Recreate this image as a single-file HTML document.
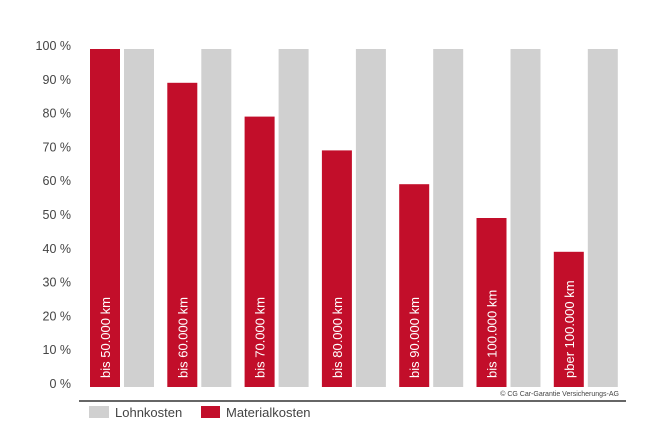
<!DOCTYPE html>
<html><head><meta charset="utf-8"><style>
body{margin:0;background:#fff;font-family:"Liberation Sans",sans-serif}
svg{display:block}
</style></head><body>
<svg width="660" height="440">
<g id="yaxis"></g>
<g id="bars"></g>
<text x="619" y="396" font-size="7" fill="#444" text-anchor="end">© CG Car-Garantie Versicherungs-AG</text>
<line x1="79" y1="401" x2="626" y2="401" stroke="#333" stroke-width="1.5"/>
<rect x="89" y="406" width="20" height="12" fill="#d0d0d0"/>
<text x="115" y="417" font-size="13" fill="#444">Lohnkosten</text>
<rect x="201" y="406" width="19" height="12" fill="#c20e2a"/>
<text x="226" y="417" font-size="13" fill="#444">Materialkosten</text>
</svg>
<script>
const categories=["bis 50.000 km","bis 60.000 km","bis 70.000 km","bis 80.000 km","bis 90.000 km","bis 100.000 km","pber 100.000 km"];
const materialkosten=[100,90,80,70,60,50,40];
const lohnkosten=[100,100,100,100,100,100,100];
const ticks=[0,10,20,30,40,50,60,70,80,90,100];
const NS="http://www.w3.org/2000/svg";
const y=v=>387-3.38*v;
const x=i=>90+77.3*i;
const ya=document.getElementById('yaxis'),bg=document.getElementById('bars');
ticks.forEach(t=>{const e=document.createElementNS(NS,'text');


e.setAttribute('x',71);e.setAttribute('y',y(t)+1);e.setAttribute('text-anchor','end');e.setAttribute('font-size','12.5');e.setAttribute('fill','#444');e.textContent=t+' %';ya.appendChild(e);});
categories.forEach((c,i)=>{
const r=document.createElementNS(NS,'rect');


r.setAttribute('x',x(i));r.setAttribute('y',y(materialkosten[i]));r.setAttribute('width',30);r.setAttribute('height',387-y(materialkosten[i]));r.setAttribute('fill','#c20e2a');bg.appendChild(r);
const g=document.createElementNS(NS,'rect');


g.setAttribute('x',x(i)+34);g.setAttribute('y',y(lohnkosten[i]));g.setAttribute('width',30);g.setAttribute('height',387-y(lohnkosten[i]));g.setAttribute('fill','#d0d0d0');bg.appendChild(g);
const t=document.createElementNS(NS,'text');


const tx=x(i)+20,ty=378;
t.setAttribute('transform','translate('+tx+','+ty+') rotate(-90)');t.setAttribute('font-size','13');t.setAttribute('fill','#fff');t.textContent=c;bg.appendChild(t);
});
</script>
</body></html>
